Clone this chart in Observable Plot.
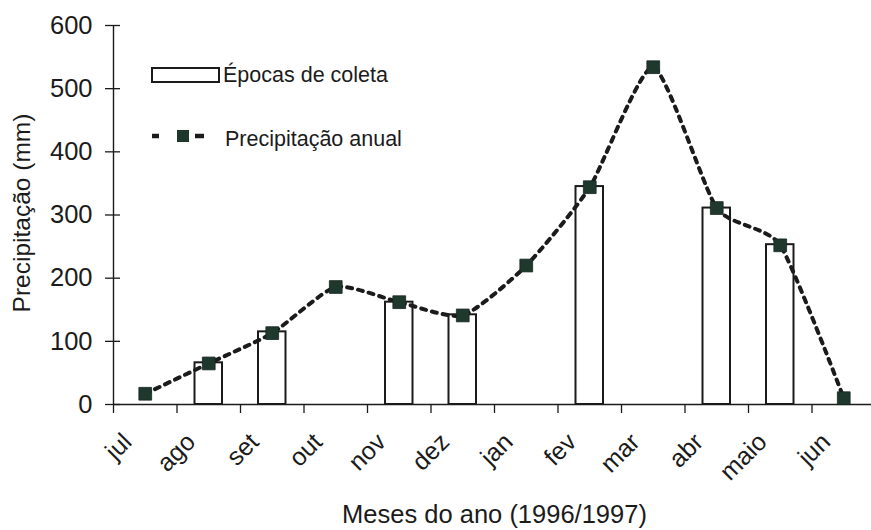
<!DOCTYPE html>
<html>
<head>
<meta charset="utf-8">
<script src="https://cdn.jsdelivr.net/npm/d3@7"></script>
<script src="https://cdn.jsdelivr.net/npm/@observablehq/plot@0.6"></script>
<style>
  html, body { margin: 0; padding: 0; background: #fff; }
  #wrap { position: relative; width: 871px; height: 530px; overflow: hidden; }
  #legend { position: absolute; left: 0; top: 0; pointer-events: none; }
</style>
</head>
<body>
<div id="wrap"></div>
<script>
// ---- data ----
const months = ["jul", "ago", "set", "out", "nov", "dez", "jan", "fev", "mar", "abr", "maio", "jun"];
const precipitation = [17, 65, 113, 186, 162, 141, 220, 344, 534, 311, 252, 10];
const collection = [null, 66, 115, null, 162, 142, null, 345, null, 311, 253, null];
const yTicks = [0, 100, 200, 300, 400, 500, 600];
const seriesLabels = ["Épocas de coleta", "Precipitação anual"];
const yTitle = "Precipitação (mm)";
const xTitle = "Meses do ano (1996/1997)";

// ---- build ----
const rows = months.map((m, i) => ({ month: m, idx: i, precip: precipitation[i], coleta: collection[i] }));
const bars = rows.filter(d => d.coleta != null);
const tickIdx = months.map((m, i) => i);
const ink = "#1b1b1b";
const markerFill = "#1f382d";
const font = '"Liberation Sans", Arial, Helvetica, sans-serif';

const chart = Plot.plot({
  width: 871,
  height: 530,
  marginLeft: 113,
  marginRight: 0,
  marginTop: 25,
  marginBottom: 126,
  x: { domain: [0, 12], range: [113, 875], axis: null },
  y: { domain: [0, 600], range: [404, 25], axis: null },
  style: { fontFamily: font, fontSize: "24px", color: ink, background: "#fff", overflow: "visible" },
  marks: [
    // bars (épocas de coleta)
    Plot.rectY(bars, { x: "idx", interval: 1, y: "coleta", fill: "#fff", stroke: ink, strokeWidth: 2, insetLeft: 18, insetRight: 18 }),
    // axes lines
    Plot.ruleX([0], { stroke: ink, strokeWidth: 1.4 }),
    Plot.ruleY([0], { stroke: ink, strokeWidth: 1.6 }),
    // y axis ticks + labels
    Plot.axisY({ ticks: yTicks, tickSize: 15, tickPadding: 13, dx: 7, label: null, color: ink, strokeWidth: 1.3, fontSize: 25.5 }),
    // x axis ticks
    Plot.axisX({ ticks: tickIdx, tickSize: 9, tickFormat: () => "", label: null, color: ink, strokeWidth: 1.3 }),
    // month labels
    Plot.text(rows, { x: d => d.idx + 0.5, text: "month", frameAnchor: "bottom", dy: 39, dx: -12, rotate: -45, textAnchor: "end", lineAnchor: "bottom", fontSize: 25, fill: ink }),
    // precipitation line
    Plot.line(rows, { x: d => d.idx + 0.5, y: "precip", curve: "cardinal", tension: 0.4, stroke: ink, strokeWidth: 4, strokeDasharray: "5,6" }),
    Plot.dot(rows, { x: d => d.idx + 0.5, y: "precip", symbol: "square", r: 7.2, fill: markerFill, stroke: "#16261f", strokeWidth: 0.8 }),
    // axis titles
    Plot.text([xTitle], { frameAnchor: "bottom", dy: 118, dx: 2, lineAnchor: "bottom", fontSize: 25.5, fill: ink }),
    Plot.text([yTitle], { frameAnchor: "left", dx: -91, dy: -2, rotate: -90, textAnchor: "middle", fontSize: 24.5, fill: ink })
  ]
});

const wrap = document.getElementById("wrap");
wrap.appendChild(chart);

// ---- legend (inside plot area) ----
const ns = "http://www.w3.org/2000/svg";
const leg = document.createElementNS(ns, "svg");
leg.setAttribute("id", "legend");
leg.setAttribute("width", 871);
leg.setAttribute("height", 530);
leg.innerHTML = `
  <rect x="152" y="68" width="67" height="14" fill="#fff" stroke="${ink}" stroke-width="2"/>
  <text x="223" y="82" font-family='${font}' font-size="21.5" fill="${ink}">${seriesLabels[0]}</text>
  <path d="M152,136 H159 M195,136 H204" stroke="${ink}" stroke-width="4.5" fill="none"/>
  <rect x="177" y="130" width="12" height="12" fill="${markerFill}"/>
  <text x="225" y="146" font-family='${font}' font-size="21.5" fill="${ink}">${seriesLabels[1]}</text>
`;
wrap.appendChild(leg);
</script>
</body>
</html>
